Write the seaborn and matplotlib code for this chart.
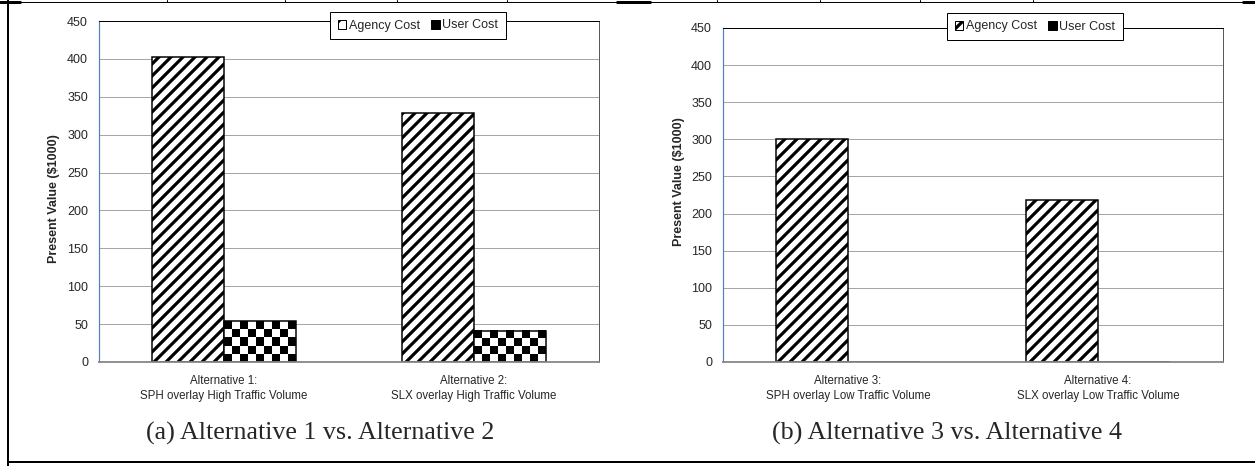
import numpy as np
import pandas as pd
import matplotlib
matplotlib.use("Agg")
import matplotlib.pyplot as plt
from matplotlib.patches import Patch
from matplotlib.lines import Line2D
import seaborn as sns

# ---- data -------------------------------------------------------------
cost_types = ["Agency Cost", "User Cost"]

alternatives_a = ["Alternative 1:\nSPH overlay High Traffic Volume",
                  "Alternative 2:\nSLX overlay High Traffic Volume"]
agency_a = [402, 329]
user_a = [54, 41]

alternatives_b = ["Alternative 3:\nSPH overlay Low Traffic Volume",
                  "Alternative 4:\nSLX overlay Low Traffic Volume"]
agency_b = [301, 218]
user_b = [0.6, 0.6]

y_ticks = [0, 50, 100, 150, 200, 250, 300, 350, 400, 450]
y_label = "Present Value ($1000)"
captions = ["(a) Alternative 1 vs. Alternative 2",
            "(b) Alternative 3 vs. Alternative 4"]

# ---- style ------------------------------------------------------------
sns.set_style("white")
plt.rcParams["font.family"] = ["Liberation Sans", "DejaVu Sans"]
plt.rcParams["hatch.linewidth"] = 3.2
plt.rcParams["hatch.color"] = "black"

DPI = 72
W, H = 1255, 466
fig = plt.figure(figsize=(W / DPI, H / DPI), dpi=DPI)


def px_axes(left, top, right, bottom):
    return fig.add_axes([left / W, 1 - bottom / H, (right - left) / W, (bottom - top) / H])


def draw_panel(ax, alts, agency, user, label_xy):
    df = pd.DataFrame({
        "alt": alts * 2,
        "cost": [cost_types[0]] * len(alts) + [cost_types[1]] * len(alts),
        "value": list(agency) + list(user),
    })
    sns.barplot(data=df, x="alt", y="value", hue="cost", order=alts,
                hue_order=cost_types, palette=["white", "white"], saturation=1,
                edgecolor="black", linewidth=1.5, width=0.576, errorbar=None,
                legend=False, ax=ax)
    ax.set_xlim(-0.5, len(alts) - 0.5)
    ax.set_ylim(0, 450)

    for bar in ax.containers[0]:
        bar.set_hatch("//")

    # checkerboard fill for the user-cost bars
    for bar in ax.containers[1]:
        x0, w, h = bar.get_x(), bar.get_width(), bar.get_height()
        p0 = ax.transData.transform((x0, 0))
        p1 = ax.transData.transform((x0 + w, h))
        wpx, hpx = p1[0] - p0[0], p1[1] - p0[1]
        if hpx < 4:
            continue
        ncol = max(1, int(round(wpx / 8)))
        nrow = max(1, int(round(hpx / 8)))
        board = np.add.outer(np.arange(nrow), np.arange(ncol)) % 2
        z = bar.get_zorder()
        ax.imshow(board, cmap="gray", vmin=0, vmax=1, extent=(x0, x0 + w, 0, h),
                  aspect="auto", interpolation="nearest", zorder=z + 0.1)
        bar.set_facecolor("none")
        bar.set_zorder(z + 0.2)

    ax.set_xlim(-0.5, len(alts) - 0.5)
    ax.set_ylim(0, 450)
    ax.set_yticks(y_ticks)
    ax.set_aspect("auto")
    ax.yaxis.grid(True, color="#A6A6A6", lw=1)
    ax.set_axisbelow(True)
    ax.tick_params(axis="y", length=0, pad=11, labelsize=12.5)
    ax.tick_params(axis="x", length=0, pad=13, labelsize=11.5)
    for t in ax.get_xticklabels():
        t.set_linespacing(1.35)
    ax.set_xlabel("")
    ax.set_ylabel(y_label, fontsize=12.5, fontweight="bold")
    ax.yaxis.set_label_coords(*label_xy)

    ax.spines["left"].set_color("#4F81BD")
    ax.spines["left"].set_linewidth(1.2)
    ax.spines["bottom"].set_color("#868686")
    ax.spines["bottom"].set_linewidth(1.8)
    ax.spines["top"].set_color("black")
    ax.spines["top"].set_linewidth(1)
    ax.spines["right"].set_color("#595959")
    ax.spines["right"].set_linewidth(1)
    for s in ax.spines.values():
        s.set_visible(True)


ax_a = px_axes(99, 21, 599, 362)
ax_b = px_axes(723, 28, 1223, 362)
draw_panel(ax_a, alternatives_a, agency_a, user_a, (-0.078, 0.48))
draw_panel(ax_b, alternatives_b, agency_b, user_b, (-0.076, 0.54))

handles = [Patch(facecolor="white", edgecolor="black", hatch="/", lw=1),
           Patch(facecolor="black", edgecolor="black", lw=1)]
for (lx, ly) in [(330, 12), (947, 13)]:
    leg = fig.legend(handles, cost_types, loc="upper left",
                     bbox_to_anchor=(lx / W, 1 - ly / H), ncol=2, fontsize=12.5,
                     frameon=True, fancybox=False, framealpha=1, edgecolor="black",
                     handlelength=0.7, handleheight=0.7, handletextpad=0.2,
                     columnspacing=0.9, borderpad=0.6, borderaxespad=0)
    leg.get_frame().set_linewidth(1)
    leg.set_zorder(10)

for cx, text in zip([320, 947], captions):
    fig.text(cx / W, 1 - 433 / H, text, ha="center", va="center",
             fontsize=26, family=["Liberation Serif", "DejaVu Serif"])

# page frame around the two charts
frame = dict(transform=fig.transFigure, color="black")
fig.add_artist(Line2D([8 / W, 8 / W], [0, 1], lw=2, **frame))
fig.add_artist(Line2D([8 / W, 1], [1 - 462 / H, 1 - 462 / H], lw=2, **frame))
fig.add_artist(Line2D([0, 1], [1 - 2 / H, 1 - 2 / H], lw=1, **frame))
for tx in [167, 285, 397, 507, 717, 820, 920, 1033]:
    fig.add_artist(Line2D([tx / W, tx / W], [1 - 2 / H, 1], lw=1, **frame))
for x0, x1 in [(0, 20), (617, 650), (1243, 1255)]:
    fig.add_artist(Line2D([x0 / W, x1 / W], [1 - 1.5 / H, 1 - 1.5 / H], lw=3, **frame))

fig.savefig("out.png", dpi=DPI)
